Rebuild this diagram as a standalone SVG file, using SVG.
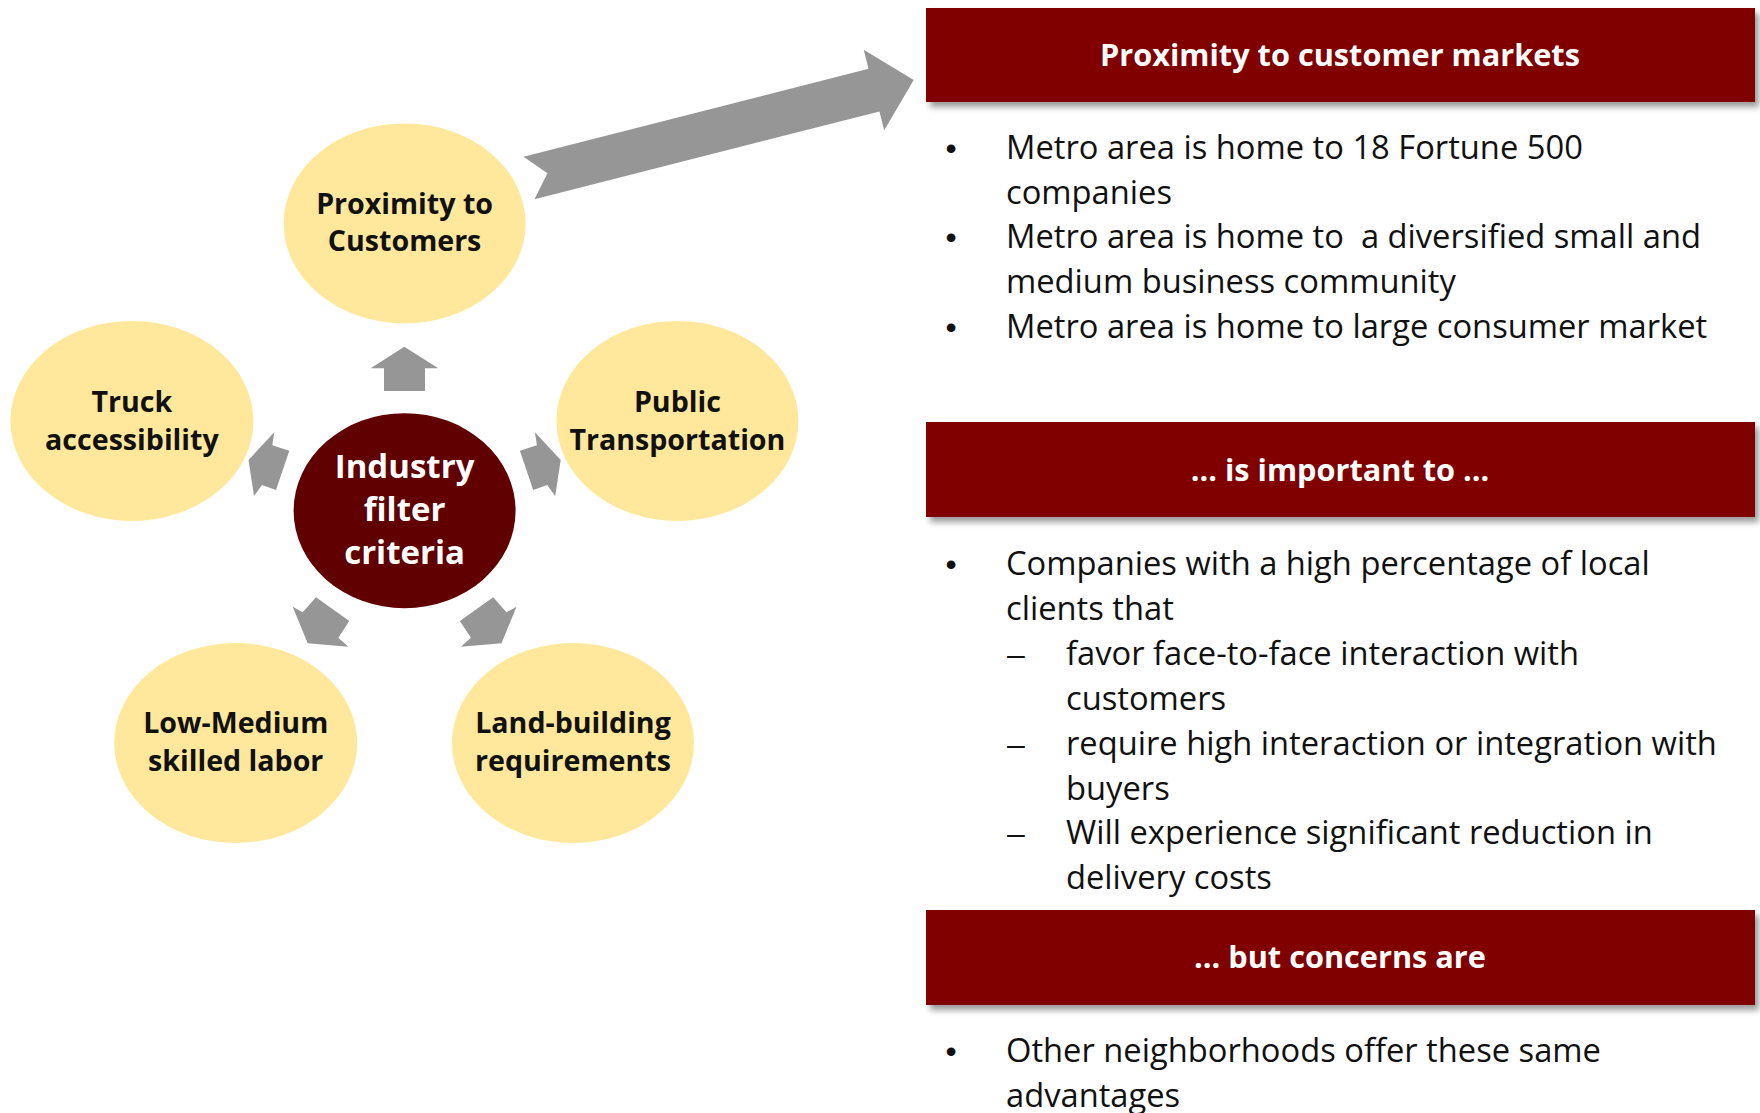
<svg xmlns="http://www.w3.org/2000/svg" width="1760" height="1113" viewBox="0 0 1760 1113">
  <defs>
    <style>
      .node { fill: #FFE89B; }
      .lbl { font-family: "Open Sans", "Liberation Sans", sans-serif; font-weight: bold; font-size: 28.6px; fill: #111; text-anchor: middle; }
      .ctr { font-family: "Open Sans", "Liberation Sans", sans-serif; font-weight: bold; font-size: 33px; fill: #fff; text-anchor: middle; }
      .hdr { fill: #800000; }
      .hdrt { font-family: "Open Sans", "Liberation Sans", sans-serif; font-weight: bold; font-size: 30.7px; fill: #fff; text-anchor: middle; }
      .body { font-family: "Open Sans", "Liberation Sans", sans-serif; font-size: 32.7px; fill: #111; }
      .mk { font-family: "Liberation Sans", "Open Sans", sans-serif; font-size: 32px; fill: #111; text-anchor: middle; }
      .arrow { fill: #969696; }
    </style>
    <filter id="sh" x="-5%" y="-20%" width="115%" height="150%">
      <feDropShadow dx="4" dy="5" stdDeviation="3" flood-color="#000" flood-opacity="0.4"/>
    </filter>
  </defs>
  <rect width="1760" height="1113" fill="#fff"/>

  <g id="connectors">
    <polygon class="arrow" transform="translate(529,178) rotate(-14.3)" points="0,-22 356,-22 356,-41.5 397,0 356,41.5 356,22 0,22 19,0"/>
    <polygon class="arrow" points="404.3,346.7 438.3,368.3 425,368.3 425,391 384,391 384,368.3 370.7,368.3"/>
    <polygon class="arrow" points="248.5,460 274.3,432.3 272.3,445.3 289.3,450.7 276,490 262,485 254,496"/>
    <polygon class="arrow" points="560.7,460 534.9,432.3 536.9,445.3 519.9,450.7 533.2,490 547.2,485 555.2,496"/>
    <polygon class="arrow" points="307.7,643.3 348.3,646.7 338.3,637.7 349.3,621 316,597.3 302.7,612.3 292.7,606.7"/>
    <polygon class="arrow" points="501.5,643.3 460.9,646.7 470.9,637.7 459.9,621 493.2,597.3 506.5,612.3 516.5,606.7"/>
  </g>

  <g id="node-proximity">
    <ellipse class="node" cx="404.6" cy="223.4" rx="121" ry="100"/>
    <text class="lbl" x="404.6" y="214">Proximity to</text>
    <text class="lbl" x="404.6" y="251">Customers</text>
  </g>
  <g id="node-truck">
    <ellipse class="node" cx="131.9" cy="420.9" rx="121.5" ry="100"/>
    <text class="lbl" x="131.9" y="412">Truck</text>
    <text class="lbl" x="131.9" y="450">accessibility</text>
  </g>
  <g id="node-public">
    <ellipse class="node" cx="677.4" cy="420.9" rx="121" ry="100"/>
    <text class="lbl" x="677.4" y="412">Public</text>
    <text class="lbl" x="677.4" y="450">Transportation</text>
  </g>
  <g id="node-lowmedium">
    <ellipse class="node" cx="235.7" cy="743" rx="121.5" ry="100"/>
    <text class="lbl" x="235.7" y="733">Low-Medium</text>
    <text class="lbl" x="235.7" y="771">skilled labor</text>
  </g>
  <g id="node-land">
    <ellipse class="node" cx="573" cy="743" rx="121" ry="100"/>
    <text class="lbl" x="573" y="733">Land-building</text>
    <text class="lbl" x="573" y="771">requirements</text>
  </g>
  <g id="node-center">
    <ellipse cx="404.6" cy="510.7" rx="111" ry="97.5" fill="#600000"/>
    <text class="ctr" x="404.6" y="478">Industry</text>
    <text class="ctr" x="404.6" y="521">filter</text>
    <text class="ctr" x="404.6" y="564">criteria</text>
  </g>

  <g id="header-proximity">
    <rect class="hdr" x="926" y="8" width="829" height="94" filter="url(#sh)"/>
    <text class="hdrt" x="1340" y="66">Proximity to customer markets</text>
  </g>
  <g id="text-proximity">
    <text class="mk" x="951" y="159">•</text>
    <text class="body" x="1006" y="159">Metro area is home to 18 Fortune 500</text>
    <text class="body" x="1006" y="204">companies</text>
    <text class="mk" x="951" y="248">•</text>
    <text class="body" x="1006" y="248" xml:space="preserve">Metro area is home to  a diversified small and</text>
    <text class="body" x="1006" y="293">medium business community</text>
    <text class="mk" x="951" y="338">•</text>
    <text class="body" x="1006" y="338">Metro area is home to large consumer market</text>
  </g>

  <g id="header-important">
    <rect class="hdr" x="926" y="422" width="829" height="95" filter="url(#sh)"/>
    <text class="hdrt" x="1340" y="481">… is important to …</text>
  </g>
  <g id="text-important">
    <text class="mk" x="951" y="575">•</text>
    <text class="body" x="1006" y="575">Companies with a high percentage of local</text>
    <text class="body" x="1006" y="620">clients that</text>
    <text class="mk" x="1016" y="665">–</text>
    <text class="body" x="1066" y="665">favor face-to-face interaction with</text>
    <text class="body" x="1066" y="710">customers</text>
    <text class="mk" x="1016" y="755">–</text>
    <text class="body" x="1066" y="755">require high interaction or integration with</text>
    <text class="body" x="1066" y="800">buyers</text>
    <text class="mk" x="1016" y="844">–</text>
    <text class="body" x="1066" y="844">Will experience significant reduction in</text>
    <text class="body" x="1066" y="889">delivery costs</text>
  </g>

  <g id="header-concerns">
    <rect class="hdr" x="926" y="910" width="829" height="95" filter="url(#sh)"/>
    <text class="hdrt" x="1340" y="968">… but concerns are</text>
  </g>
  <g id="text-concerns">
    <text class="mk" x="951" y="1062">•</text>
    <text class="body" x="1006" y="1062">Other neighborhoods offer these same</text>
    <text class="body" x="1006" y="1107">advantages</text>
  </g>
</svg>
